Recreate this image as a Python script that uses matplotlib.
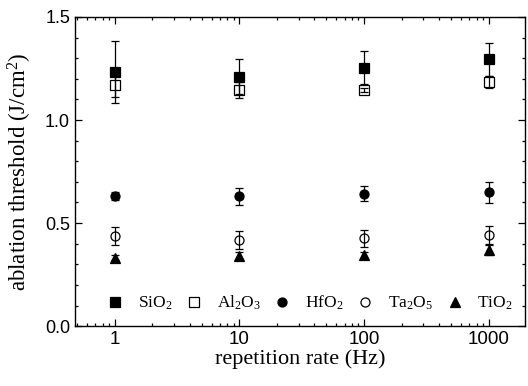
import matplotlib
matplotlib.use('Agg')
import matplotlib.pyplot as plt
from matplotlib.ticker import MultipleLocator, LogLocator, NullFormatter, FixedLocator, FixedFormatter

rate = [1, 10, 100, 1000]
labels = ['SiO$_2$', 'Al$_2$O$_3$', 'HfO$_2$', 'Ta$_2$O$_5$', 'TiO$_2$']

sio2 = [1.234, 1.209, 1.253, 1.296]
sio2_err = [0.15, 0.085, 0.08, 0.08]
al2o3 = [1.172, 1.147, 1.147, 1.185]
al2o3_err = [0.06, 0.04, 0.01, 0.03]
hfo2 = [0.633, 0.630, 0.642, 0.649]
hfo2_err = [0.02, 0.04, 0.037, 0.05]
ta2o5 = [0.438, 0.419, 0.427, 0.443]
ta2o5_err = [0.045, 0.043, 0.041, 0.043]
tio2 = [0.333, 0.341, 0.346, 0.370]
tio2_err = [0.01, 0.02, 0.015, 0.025]

plt.rcParams['font.family'] = ['Liberation Serif', 'DejaVu Serif']
plt.rcParams['mathtext.fontset'] = 'custom'
plt.rcParams['mathtext.rm'] = 'Liberation Serif'
plt.rcParams['mathtext.it'] = 'Liberation Serif:italic'

fig = plt.figure(figsize=(5.28, 3.86), dpi=100)
ax = fig.add_axes([0.142, 0.155, 0.852, 0.801])

series = [
    (sio2, sio2_err, 's', 'k'),
    (al2o3, al2o3_err, 's', 'none'),
    (hfo2, hfo2_err, 'o', 'k'),
    (ta2o5, ta2o5_err, 'o', 'none'),
    (tio2, tio2_err, '^', 'k'),
]
handles = []
for (y, e, m, fc) in series:
    c = ax.errorbar(rate, y, yerr=e, fmt=m, mfc=fc, mec='k', mew=0.9, ms=6.5,
                    ecolor='k', elinewidth=0.9, capsize=3, capthick=0.9)
    handles.append(c[0])

ax.set_xscale('log')
ax.set_xlim(0.48, 1950)
ax.set_ylim(0, 1.5)
ax.xaxis.set_major_locator(FixedLocator(rate))
ax.xaxis.set_major_formatter(FixedFormatter(['1', '10', '100', '1000']))
ax.xaxis.set_minor_locator(LogLocator(base=10, subs=range(2, 10), numticks=20))
ax.xaxis.set_minor_formatter(NullFormatter())
ax.yaxis.set_major_locator(MultipleLocator(0.5))
ax.yaxis.set_minor_locator(MultipleLocator(0.1))
ax.yaxis.set_major_formatter(plt.FuncFormatter(lambda v, p: '%.1f' % v))

ax.tick_params(which='both', direction='in', top=True, right=True, width=0.9)
ax.tick_params(which='major', length=5)
ax.tick_params(which='minor', length=2.5)
for lab in ax.get_xticklabels():
    lab.set_family('Liberation Sans')
    lab.set_fontsize(13.5)
for lab in ax.get_yticklabels():
    lab.set_family('Liberation Sans')
    lab.set_fontsize(13)
for s in ax.spines.values():
    s.set_linewidth(1.0)

ax.set_xlabel('repetition rate (Hz)', fontsize=16, labelpad=1)
ax.set_ylabel('ablation threshold (J/cm$^2$)', fontsize=16.5, labelpad=8)

ax.legend(handles, labels, loc='lower right', ncol=5, frameon=False,
          fontsize=12.5, handletextpad=0.7, columnspacing=0.65,
          bbox_to_anchor=(1.0, 0.005), handlelength=1.2, borderaxespad=0.3)

fig.savefig('out.png', dpi=100)
